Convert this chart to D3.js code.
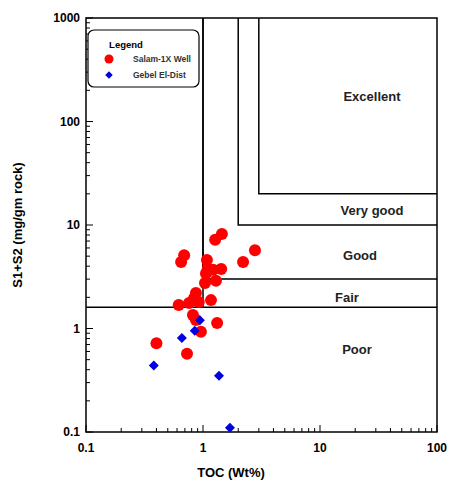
<!DOCTYPE html>
<html><head><meta charset="utf-8">
<script src="https://cdn.jsdelivr.net/npm/d3@7"></script>
<style>body{margin:0;background:#fff}text{font-family:Arial,"Liberation Sans",sans-serif;font-weight:bold}</style>
</head><body><svg id="c" width="449" height="486"></svg>
<script>
// TOC vs S1+S2 (log-log)
var salamToc = [1.45,1.27,0.69,0.65,2.78,2.2,1.08,1.10,1.22,1.43,1.06,1.29,1.04,0.87,0.84,0.62,0.76,0.92,1.17,0.82,0.87,1.32,0.96,0.40,0.73];
var salamS = [8.2,7.2,5.1,4.4,5.7,4.4,4.6,3.8,3.7,3.75,3.4,2.9,2.75,2.2,1.97,1.69,1.76,1.8,1.88,1.35,1.21,1.13,0.93,0.72,0.57];
var gebelToc = [0.94,0.85,0.66,0.38,1.37,1.7];
var gebelS = [1.2,0.95,0.81,0.44,0.35,0.11];
var xTicks = [0.1,1,10,100];
var yTicks = [0.1,1,10,100,1000];
// boundary boxes: [toc from, s1+s2 level]
var classes = ["Poor","Fair","Good","Very good","Excellent"];
var boxes = [[1,3],[2,10],[3,20]];
var fairLevel = 1.6;

var svg = d3.select("#c");
var L=86, R=437, T=18, B=432;
var x = d3.scaleLog().domain([0.1,100]).range([L,R]);
var y = d3.scaleLog().domain([0.1,1000]).range([B,T]);

var minor = function(dom){ var a=[]; for(var d=dom[0]; d<dom[1]; d*=10) for(var k=1;k<10;k++) a.push(d*k); a.push(dom[1]); return a; };

var g = svg.append("g");
// minor ticks inward
g.selectAll(".xm").data(minor([0.1,100])).join("line")
  .attr("x1",d=>x(d)).attr("x2",d=>x(d)).attr("y1",B).attr("y2",d=>xTicks.indexOf(d)>=0?B-7:B-4).attr("stroke","#000");
g.selectAll(".ym").data(minor([0.1,1000])).join("line")
  .attr("y1",d=>y(d)).attr("y2",d=>y(d)).attr("x1",L).attr("x2",d=>yTicks.indexOf(d)>=0?L+7:L+4).attr("stroke","#000");
g.selectAll(".xl").data(xTicks).join("text").attr("x",d=>x(d)).attr("y",B+20).attr("text-anchor","middle").attr("font-size",12).text(d=>d);
g.selectAll(".yl").data(yTicks).join("text").attr("x",L-6).attr("y",d=>y(d)+4).attr("text-anchor","end").attr("font-size",12).text(d=>d);

g.append("rect").attr("x",L).attr("y",T).attr("width",R-L).attr("height",B-T).attr("fill","none").attr("stroke","#000").attr("stroke-width",1.5);

// classification lines
g.append("line").attr("x1",L).attr("x2",R).attr("y1",y(fairLevel)).attr("y2",y(fairLevel)).attr("stroke","#000").attr("stroke-width",1.5);
g.append("line").attr("x1",x(1)).attr("x2",x(1)).attr("y1",T).attr("y2",y(fairLevel)).attr("stroke","#000").attr("stroke-width",1.5);
boxes.forEach(function(b){
  g.append("polyline").attr("points",[[x(b[0]),T],[x(b[0]),y(b[1])],[R,y(b[1])]].join(" "))
    .attr("fill","none").attr("stroke","#000").attr("stroke-width",1.5);
});
var labPos = [[357,349],[347,297],[360,255],[372,210],[372,96]];
g.selectAll(".cl").data(classes).join("text").attr("x",(d,i)=>labPos[i][0]).attr("y",(d,i)=>labPos[i][1]+5)
  .attr("text-anchor","middle").attr("font-size",13).attr("fill","#222").text(d=>d);

// points
g.selectAll(".s").data(salamToc).join("circle").attr("cx",d=>x(d)).attr("cy",(d,i)=>y(salamS[i])).attr("r",6).attr("fill","#f00");
var dia = d3.symbol().type(d3.symbolSquare).size(50);
g.selectAll(".gb").data(gebelToc).join("path").attr("d",dia)
  .attr("transform",(d,i)=>"translate("+x(d)+","+y(gebelS[i])+") rotate(45)").attr("fill","#0000e0");

// legend
var lg = g.append("g");
lg.append("rect").attr("x",88).attr("y",30).attr("width",111).attr("height",57).attr("rx",6).attr("fill","#fff").attr("stroke","#000").attr("stroke-width",1.2);
lg.append("text").attr("x",126).attr("y",48).attr("text-anchor","middle").attr("font-size",9.5).text("Legend");
lg.append("circle").attr("cx",109).attr("cy",59).attr("r",4.5).attr("fill","#f00");
lg.append("path").attr("d",d3.symbol().type(d3.symbolSquare).size(28)).attr("transform","translate(109,75) rotate(45)").attr("fill","#0000e0");
lg.append("text").attr("x",133).attr("y",62).attr("font-size",8.5).attr("fill","#333").text("Salam-1X Well");
lg.append("text").attr("x",133).attr("y",78).attr("font-size",8.5).attr("fill","#333").text("Gebel El-Dist");

svg.append("text").attr("x",231).attr("y",477).attr("text-anchor","middle").attr("font-size",13).text("TOC (Wt%)");
svg.append("text").attr("transform","translate(22,225) rotate(-90)").attr("text-anchor","middle").attr("font-size",13).text("S1+S2 (mg/gm rock)");
</script></body></html>
